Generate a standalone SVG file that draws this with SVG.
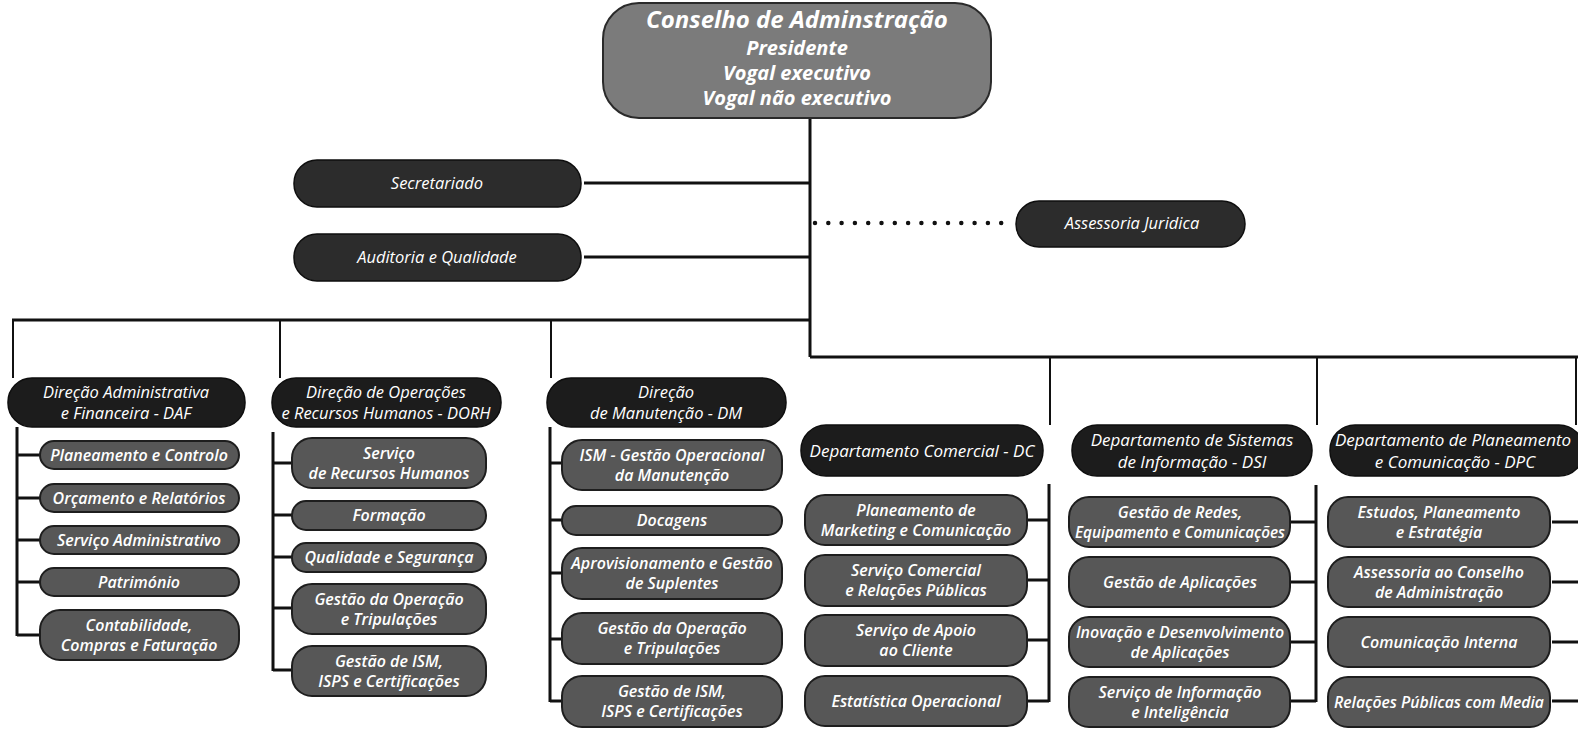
<svg xmlns="http://www.w3.org/2000/svg" width="1578" height="730" viewBox="0 0 1578 730">
<style>
text{font-family:"Open Sans","Liberation Sans",sans-serif;font-style:italic;fill:#fff;text-anchor:middle}
.top{fill:#7b7b7b;stroke:#2a2a2a;stroke-width:2}
.hd{fill:#1c1c1c;stroke:#0e0e0e;stroke-width:1.5}
.ad{fill:#2c2c2c;stroke:#0e0e0e;stroke-width:1.5}
.sb{fill:#575757;stroke:#1e1e1e;stroke-width:2}
.tt{font-weight:bold}
.h{font-size:16.5px}
.hb{font-size:17px}
.s{font-size:16px;font-weight:600}
.a{font-size:16.5px}
.ln{stroke:#111;stroke-width:3;fill:none}
.tn{stroke:#111;stroke-width:2;fill:none}
.dot{stroke:#111;stroke-width:4.5;stroke-linecap:round;stroke-dasharray:0 13.3;fill:none}
</style>
<rect width="1578" height="730" fill="#fff"/>
<g id="connectors">
<path class="ln" d="M810 118V357"/>
<path class="ln" d="M584 183H810M584 257H810"/>
<path class="dot" d="M815 223H1012"/>
<path class="ln" d="M12 320H810M810 357H1578"/>
<path class="tn" d="M13 320V378M280 320V378M551 320V378"/>
<path class="tn" d="M1050 357V425M1317 357V425M1576 357V425"/>
<path class="ln" d="M17 427V636M17 455H40M17 498H40M17 540H40M17 582H40M17 635H40"/>
<path class="ln" d="M273 432V671M273 463H292M273 515H292M273 557H292M273 608H292M273 670H292"/>
<path class="ln" d="M550 427V702M550 463H562M550 520H562M550 573H562M550 639H562M550 701H562"/>
<path class="ln" d="M1049 484V702M1028 520H1049M1028 580H1049M1028 640H1049M1028 701H1049"/>
<path class="ln" d="M1316 485V702M1291 522H1316M1291 582H1316M1291 642H1316M1291 701H1316"/>
<path class="ln" d="M1552 522H1578M1552 582H1578M1552 642H1578M1552 701H1578"/>
</g>
<g id="conselho"><rect class="top" x="603" y="3" width="388" height="115" rx="36"/>
<text class="tt" x="797" y="28" font-size="24">Conselho de Adminstração</text>
<text class="tt" x="797" y="55" font-size="20">Presidente</text>
<text class="tt" x="797" y="80" font-size="20">Vogal executivo</text>
<text class="tt" x="797" y="105" font-size="20">Vogal não executivo</text></g>
<g id="secretariado"><rect class="ad" x="294" y="160" width="287" height="47" rx="23"/><text class="a" x="437" y="189">Secretariado</text></g>
<g id="auditoria"><rect class="ad" x="294" y="234" width="287" height="47" rx="23"/><text class="a" x="437" y="263">Auditoria e Qualidade</text></g>
<g id="assessoria-juridica"><rect class="ad" x="1016" y="201" width="229" height="46" rx="23"/><text class="a" x="1132" y="229">Assessoria Juridica</text></g>
<g id="daf"><rect class="hd" x="8" y="378" width="237" height="49" rx="24"/><text class="h" x="126" y="398">Direção Administrativa</text><text class="h" x="126" y="419">e Financeira - DAF</text></g>
<g id="dorh"><rect class="hd" x="272" y="378" width="229" height="49" rx="24"/><text class="h" x="386" y="398">Direção de Operações</text><text class="h" x="386" y="419">e Recursos Humanos - DORH</text></g>
<g id="dm"><rect class="hd" x="547" y="378" width="239" height="49" rx="24"/><text class="h" x="666" y="398">Direção</text><text class="h" x="666" y="419">de Manutenção - DM</text></g>
<g id="dc"><rect class="hd" x="801" y="425" width="242" height="51" rx="25"/><text class="hb" x="922" y="457">Departamento Comercial - DC</text></g>
<g id="dsi"><rect class="hd" x="1072" y="425" width="240" height="51" rx="25"/><text class="hb" x="1192" y="446">Departamento de Sistemas</text><text class="hb" x="1192" y="468">de Informação - DSI</text></g>
<g id="dpc"><rect class="hd" x="1330" y="425" width="254" height="51" rx="25"/><text class="hb" x="1453" y="446">Departamento de Planeamento</text><text class="hb" x="1455" y="468">e Comunicação - DPC</text></g>
<g id="daf-1"><rect class="sb" x="40" y="441" width="199" height="28" rx="14"/><text class="s" x="139" y="461">Planeamento e Controlo</text></g>
<g id="daf-2"><rect class="sb" x="40" y="484" width="199" height="28" rx="14"/><text class="s" x="139" y="504">Orçamento e Relatórios</text></g>
<g id="daf-3"><rect class="sb" x="40" y="526" width="199" height="28" rx="14"/><text class="s" x="139" y="546">Serviço Administrativo</text></g>
<g id="daf-4"><rect class="sb" x="40" y="568" width="199" height="28" rx="14"/><text class="s" x="139" y="588">Património</text></g>
<g id="daf-5"><rect class="sb" x="40" y="610" width="199" height="50" rx="20"/><text class="s" x="139" y="631">Contabilidade,</text><text class="s" x="139" y="651">Compras e Faturação</text></g>
<g id="dorh-1"><rect class="sb" x="292" y="438" width="194" height="50" rx="20"/><text class="s" x="389" y="459">Serviço</text><text class="s" x="389" y="479">de Recursos Humanos</text></g>
<g id="dorh-2"><rect class="sb" x="292" y="501" width="194" height="29" rx="14"/><text class="s" x="389" y="521">Formação</text></g>
<g id="dorh-3"><rect class="sb" x="292" y="543" width="194" height="29" rx="14"/><text class="s" x="389" y="563">Qualidade e Segurança</text></g>
<g id="dorh-4"><rect class="sb" x="292" y="584" width="194" height="50" rx="20"/><text class="s" x="389" y="605">Gestão da Operação</text><text class="s" x="389" y="625">e Tripulações</text></g>
<g id="dorh-5"><rect class="sb" x="292" y="646" width="194" height="50" rx="20"/><text class="s" x="389" y="667">Gestão de ISM,</text><text class="s" x="389" y="687">ISPS e Certificações</text></g>
<g id="dm-1"><rect class="sb" x="562" y="440" width="220" height="50" rx="20"/><text class="s" x="672" y="461">ISM - Gestão Operacional</text><text class="s" x="672" y="481">da Manutenção</text></g>
<g id="dm-2"><rect class="sb" x="562" y="506" width="220" height="29" rx="14"/><text class="s" x="672" y="526">Docagens</text></g>
<g id="dm-3"><rect class="sb" x="562" y="548" width="220" height="51" rx="20"/><text class="s" x="672" y="569">Aprovisionamento e Gestão</text><text class="s" x="672" y="589">de Suplentes</text></g>
<g id="dm-4"><rect class="sb" x="562" y="613" width="220" height="51" rx="20"/><text class="s" x="672" y="634">Gestão da Operação</text><text class="s" x="672" y="654">e Tripulações</text></g>
<g id="dm-5"><rect class="sb" x="562" y="676" width="220" height="51" rx="20"/><text class="s" x="672" y="697">Gestão de ISM,</text><text class="s" x="672" y="717">ISPS e Certificações</text></g>
<g id="dc-1"><rect class="sb" x="805" y="495" width="222" height="50" rx="20"/><text class="s" x="916" y="516">Planeamento de</text><text class="s" x="916" y="536">Marketing e Comunicação</text></g>
<g id="dc-2"><rect class="sb" x="805" y="555" width="222" height="51" rx="20"/><text class="s" x="916" y="576">Serviço Comercial</text><text class="s" x="916" y="596">e Relações Públicas</text></g>
<g id="dc-3"><rect class="sb" x="805" y="615" width="222" height="51" rx="20"/><text class="s" x="916" y="636">Serviço de Apoio</text><text class="s" x="916" y="656">ao Cliente</text></g>
<g id="dc-4"><rect class="sb" x="805" y="676" width="222" height="50" rx="20"/><text class="s" x="916" y="707">Estatística Operacional</text></g>
<g id="dsi-1"><rect class="sb" x="1069" y="497" width="221" height="50" rx="20"/><text class="s" x="1180" y="518">Gestão de Redes,</text><text class="s" x="1180" y="538" textLength="210" lengthAdjust="spacingAndGlyphs">Equipamento e Comunicações</text></g>
<g id="dsi-2"><rect class="sb" x="1069" y="557" width="221" height="50" rx="20"/><text class="s" x="1180" y="588">Gestão de Aplicações</text></g>
<g id="dsi-3"><rect class="sb" x="1069" y="617" width="221" height="50" rx="20"/><text class="s" x="1180" y="638">Inovação e Desenvolvimento</text><text class="s" x="1180" y="658">de Aplicações</text></g>
<g id="dsi-4"><rect class="sb" x="1069" y="677" width="221" height="50" rx="20"/><text class="s" x="1180" y="698">Serviço de Informação</text><text class="s" x="1180" y="718">e Inteligência</text></g>
<g id="dpc-1"><rect class="sb" x="1328" y="497" width="222" height="50" rx="20"/><text class="s" x="1439" y="518">Estudos, Planeamento</text><text class="s" x="1439" y="538">e Estratégia</text></g>
<g id="dpc-2"><rect class="sb" x="1328" y="557" width="222" height="50" rx="20"/><text class="s" x="1439" y="578">Assessoria ao Conselho</text><text class="s" x="1439" y="598">de Administração</text></g>
<g id="dpc-3"><rect class="sb" x="1328" y="617" width="222" height="50" rx="20"/><text class="s" x="1439" y="648">Comunicação Interna</text></g>
<g id="dpc-4"><rect class="sb" x="1328" y="677" width="222" height="50" rx="20"/><text class="s" x="1439" y="708" textLength="210" lengthAdjust="spacingAndGlyphs">Relações Públicas com Media</text></g>
</svg>
